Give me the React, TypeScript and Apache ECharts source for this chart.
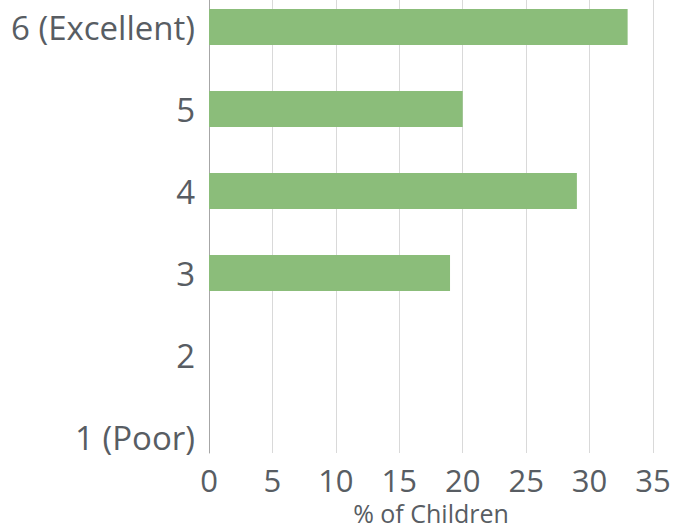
import React, { useEffect, useRef } from "react";
import * as echarts from "echarts";

const categories = ["1 (Poor)", "2", "3", "4", "5", "6 (Excellent)"];
const values = [0, 0, 19, 29, 20, 33];
const xMin = 0;
const xMax = 35;
const xInterval = 5;
const axisTitle = "% of Children";

const FONT = "Open Sans";
const TEXT = "#585d63";

export default function App() {
  const ref = useRef<HTMLDivElement>(null);
  useEffect(() => {
    if (!ref.current) return;
    const chart = echarts.init(ref.current, undefined, { renderer: "svg" });
    chart.setOption({
      animation: false,
      grid: [
        { left: 209, right: 20, top: 14, bottom: 73, outerBoundsMode: "none", containLabel: false },
        { left: 209, right: 20, top: 0, bottom: 48, outerBoundsMode: "none", containLabel: false },
      ],
      xAxis: [
        {
          gridIndex: 0,
          type: "value",
          min: xMin,
          max: xMax,
          interval: xInterval,
          axisLine: { show: false },
          axisTick: { show: false },
          splitLine: { show: true, lineStyle: { color: "#d9d9d9", width: 1 } },
          axisLabel: { fontFamily: FONT, fontSize: 31, lineHeight: 28, color: TEXT, margin: 13 },
          name: axisTitle,
          nameLocation: "middle",
          nameGap: 48,
          nameTextStyle: { fontFamily: FONT, fontSize: 25, lineHeight: 22, color: TEXT },
        },
        {
          gridIndex: 1,
          type: "value",
          min: xMin,
          max: xMax,
          show: false,
        },
      ],
      yAxis: [
        {
          gridIndex: 0,
          type: "value",
          min: 0,
          max: 1,
          axisLine: { show: true, lineStyle: { color: "#a6a6a6", width: 1 } },
          axisTick: { show: false },
          axisLabel: { show: false },
          splitLine: { show: false },
        },
        {
          gridIndex: 1,
          type: "category",
          data: categories,
          axisLine: { show: false },
          axisTick: { show: false },
          splitLine: { show: false },
          axisLabel: { fontFamily: FONT, fontSize: 33, color: TEXT, margin: 14 },
        },
      ],
      series: [
        {
          type: "bar",
          xAxisIndex: 1,
          yAxisIndex: 1,
          data: values,
          barWidth: 36,
          itemStyle: { color: "#8bbd7a" },
        },
      ],
    });
    return () => chart.dispose();
  }, []);
  return <div ref={ref} style={{ width: 673, height: 540, position: "absolute", left: 0, top: -14 }} />;
}
